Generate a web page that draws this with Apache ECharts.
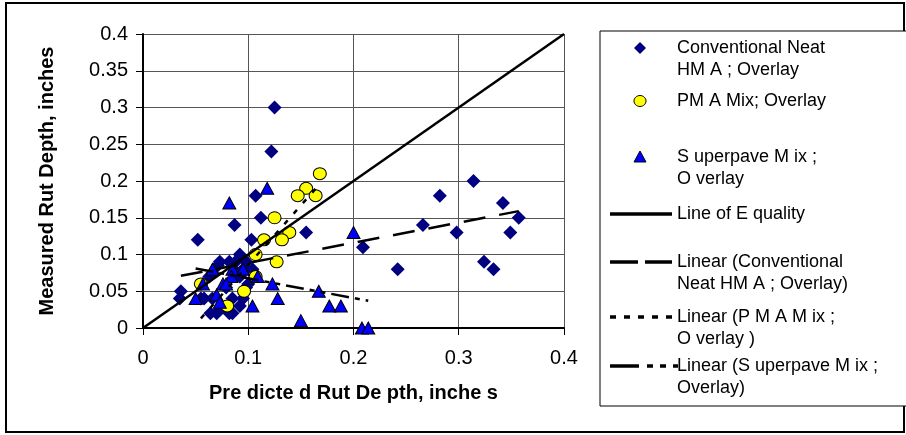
<!DOCTYPE html>
<html>
<head>
<meta charset="utf-8">
<script src="https://cdn.jsdelivr.net/npm/echarts@6/dist/echarts.min.js"></script>
<style>html,body{margin:0;padding:0;background:#fff}#c{width:906px;height:435px}</style>
</head>
<body>
<div id="c"></div>
<script>
// ---- data ----
const conventional = [
  [0.125,0.30],[0.122,0.24],[0.107,0.18],[0.112,0.15],[0.087,0.14],[0.052,0.12],[0.103,0.12],
  [0.155,0.13],[0.209,0.11],[0.242,0.08],[0.266,0.14],[0.282,0.18],[0.298,0.13],[0.314,0.20],
  [0.324,0.09],[0.333,0.08],[0.342,0.17],[0.349,0.13],[0.357,0.15],
  [0.036,0.05],[0.035,0.04],[0.055,0.04],[0.058,0.04],[0.064,0.02],[0.070,0.02],[0.082,0.02],
  [0.085,0.02],[0.073,0.025],[0.092,0.03],[0.095,0.04],[0.085,0.04],[0.066,0.04],[0.073,0.09],
  [0.082,0.09],[0.092,0.10],[0.098,0.09],[0.071,0.085],[0.095,0.08],[0.063,0.07],[0.092,0.07],
  [0.098,0.055],[0.079,0.055],[0.089,0.075],[0.066,0.075],[0.104,0.08],[0.100,0.06],[0.088,0.09]
];
const pma = [
  [0.168,0.21],[0.155,0.19],[0.147,0.18],[0.164,0.18],[0.125,0.15],[0.139,0.13],[0.132,0.12],
  [0.115,0.12],[0.107,0.10],[0.127,0.09],[0.107,0.07],[0.096,0.05],[0.055,0.06],[0.080,0.03]
];
const superpave = [
  [0.082,0.17],[0.118,0.19],[0.200,0.13],[0.167,0.05],[0.177,0.03],[0.188,0.03],[0.150,0.01],
  [0.208,0.00],[0.214,0.00],[0.128,0.04],[0.123,0.06],[0.104,0.03],[0.109,0.07],[0.050,0.04],
  [0.057,0.06],[0.066,0.08],[0.085,0.08],[0.095,0.08],[0.076,0.06],[0.084,0.07],[0.070,0.045],
  [0.073,0.035],[0.079,0.06]
];
const equalityLine = [[0,0],[0.4,0.4]];
const convTrend = [[0.036,0.071],[0.357,0.159]];
const pmaTrend = [[0.055,0.013],[0.168,0.196]];
const superTrend = [[0.050,0.081],[0.214,0.037]];

const xTitle = 'Pre dicte d Rut De pth, inche s';
const yTitle = 'Measured Rut Depth, inches';
const legendTexts = [
  'Conventional Neat\nHM A ; Overlay',
  'PM A Mix; Overlay',
  'S uperpave M ix ;\nO verlay',
  'Line of E quality',
  'Linear (Conventional\nNeat HM A ; Overlay)',
  'Linear (P M A M ix ;\nO verlay )',
  'Linear (S uperpave M ix ;\nOverlay)'
];

// ---- chart ----
const FONT = 'Arial, "Liberation Sans", sans-serif';
const chart = echarts.init(document.getElementById('c'), null, {renderer:'canvas'});

const axisCommon = {
  type:'value', min:0, max:0.4,
  axisLine:{show:true, onZero:false, lineStyle:{color:'#000', width:2}},
  axisTick:{show:true, inside:false, length:7, lineStyle:{color:'#000', width:1}},
  splitLine:{show:true, lineStyle:{color:'#555', width:1}},
  nameLocation:'middle',
  nameTextStyle:{fontSize:20, fontWeight:'bold', color:'#000', fontFamily:FONT}
};

const legendX = 677, lineX0 = 610, lineX1 = 672, symX = 640;
const legendKinds = ['diamond','circle','triangle','solid','dash','dot','dashdot'];
const symTop = [48, 101, 157, 214, 262, 317, 366];

const graphics = [
  {type:'rect', shape:{x:6, y:3, width:898, height:429}, style:{fill:'none', stroke:'#000', lineWidth:2}, z:0},
  {type:'rect', shape:{x:600, y:31, width:320, height:375}, style:{fill:'#fff', stroke:'#000', lineWidth:1}, z:1}
];
legendKinds.forEach((kind, i) => {
  const ys = symTop[i];
  graphics.push({type:'text', x:legendX, y:ys - 11, z:3,
    style:{text:legendTexts[i], fontSize:18, fontFamily:FONT, fill:'#000', lineHeight:22, align:'left', verticalAlign:'top'}});
  if (kind === 'diamond') {
    graphics.push({type:'polygon', z:3, shape:{points:[[symX,ys-6],[symX+6,ys],[symX,ys+6],[symX-6,ys]]}, style:{fill:'#000080'}});
  } else if (kind === 'circle') {
    graphics.push({type:'ellipse', z:3, shape:{cx:symX, cy:ys, rx:6, ry:5.5}, style:{fill:'#ffff00', stroke:'#000', lineWidth:1}});
  } else if (kind === 'triangle') {
    graphics.push({type:'polygon', z:3, shape:{points:[[symX,ys-6],[symX+6,ys+5],[symX-6,ys+5]]}, style:{fill:'#0000ff', stroke:'#000', lineWidth:1}});
  } else {
    const dash = kind==='solid' ? null : kind==='dash' ? [28,7] : kind==='dot' ? [6,8] : [29,8,6,7,6,7];
    graphics.push({type:'line', z:3, shape:{x1:lineX0, y1:ys, x2:lineX1 + (kind==='dashdot'?6:0), y2:ys},
      style:{stroke:'#000', lineWidth:3.5, lineDash:dash}});
  }
});

const option = {
  animation:false,
  backgroundColor:'#fff',
  textStyle:{fontFamily:FONT},
  grid:{left:143, right:342, top:34, bottom:107, containLabel:false},
  xAxis:Object.assign({}, axisCommon, {
    interval:0.1,
    name:xTitle, nameGap:55,
    axisLabel:{fontSize:20, color:'#000', margin:20, fontFamily:FONT}
  }),
  yAxis:Object.assign({}, axisCommon, {
    interval:0.05,
    name:yTitle, nameGap:86,
    axisLabel:{fontSize:20, color:'#000', margin:15, fontFamily:FONT}
  }),
  series:[
    {name:'Conventional', type:'scatter', data:conventional, symbol:'diamond', symbolSize:14,
      itemStyle:{color:'#000080', opacity:1}, z:2},
    {name:'PMA', type:'scatter', data:pma, symbol:'circle', symbolSize:[13,12],
      itemStyle:{color:'#ffff00', borderColor:'#000', borderWidth:1, opacity:1}, z:3},
    {name:'Superpave', type:'scatter', data:superpave, symbol:'triangle', symbolSize:[13,12],
      itemStyle:{color:'#0000ff', borderColor:'#000', borderWidth:1, opacity:1}, z:4},
    {name:'Line of Equality', type:'line', data:equalityLine, symbol:'none', z:5,
      lineStyle:{color:'#000', width:2.5}},
    {name:'Linear Conventional', type:'line', data:convTrend, symbol:'none', z:5,
      lineStyle:{color:'#000', width:2.5, type:[22,14]}},
    {name:'Linear PMA', type:'line', data:pmaTrend, symbol:'none', z:5,
      lineStyle:{color:'#000', width:2.5, type:[5,9]}},
    {name:'Linear Superpave', type:'line', data:superTrend, symbol:'none', z:5,
      lineStyle:{color:'#000', width:2.5, type:[18,6,5,6,5,6]}}
  ],
  graphic:graphics
};
chart.setOption(option);
</script>
</body>
</html>
